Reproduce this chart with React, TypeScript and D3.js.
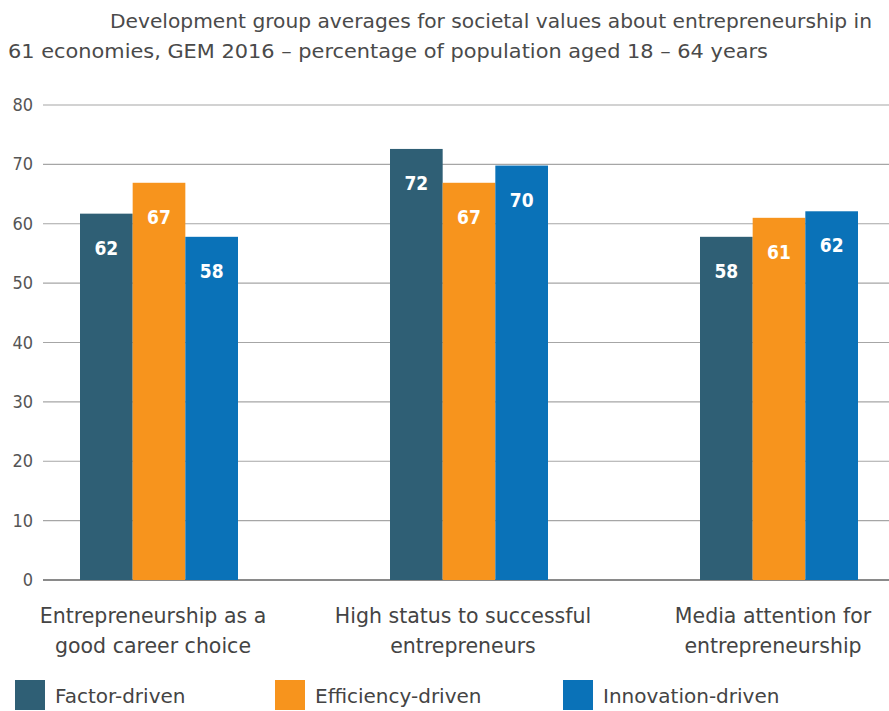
import * as d3 from "d3";
import React from "react";

const title1 = "Development group averages for societal values about entrepreneurship in";
const title2 = "61 economies, GEM 2016 – percentage of population aged 18 – 64 years";

const categories = [
  ["Entrepreneurship as a", "good career choice"],
  ["High status to successful", "entrepreneurs"],
  ["Media attention for", "entrepreneurship"],
];
const series = ["Factor-driven", "Efficiency-driven", "Innovation-driven"];
const colors = ["#2f5f75", "#f7941d", "#0a72b8"];

// value per category, per series
const factorValues = [61.7, 72.6, 57.8];
const efficiencyValues = [66.9, 66.9, 61.0];
const innovationValues = [57.8, 69.8, 62.1];
const factorLabels = ["62", "72", "58"];
const efficiencyLabels = ["67", "67", "61"];
const innovationLabels = ["58", "70", "62"];
const yTicks = [0, 10, 20, 30, 40, 50, 60, 70, 80];

const values = [factorValues, efficiencyValues, innovationValues];
const labels = [factorLabels, efficiencyLabels, innovationLabels];

const wide = "'DejaVu Sans', sans-serif";
const narrow = "'DejaVu Sans Condensed', 'DejaVu Sans', sans-serif";

export default function App() {
  const width = 889;
  const height = 711;
  const y = d3.scaleLinear().domain([0, 80]).range([580, 105]);
  const x0 = d3.scalePoint().domain(["0", "1", "2"]).range([159, 779]);
  const x1 = d3.scaleBand().domain(["0", "1", "2"]).range([-79, 79]);

  return (
    <svg
      width={width}
      height={height}
      style={{ position: "absolute", left: 0, top: 0, fontFamily: wide }}
    >
      <text x={110} y={28} fontSize={19} fill="#4a4a4a" textLength={762} lengthAdjust="spacingAndGlyphs">
        {title1}
      </text>
      <text x={8} y={58} fontSize={19} fill="#4a4a4a" textLength={760} lengthAdjust="spacingAndGlyphs">
        {title2}
      </text>

      {yTicks.map((t) => (
        <g key={t}>
          <line
            x1={43}
            x2={889}
            y1={y(t)}
            y2={y(t)}
            stroke={t === 0 ? "#8a8a8a" : "#a6a6a6"}
            strokeWidth={t === 0 ? 2 : 1.2}
          />
          <text x={33} y={y(t) + 6} textAnchor="end" fontSize={18} fontFamily={narrow} fill="#555">
            {t}
          </text>
        </g>
      ))}

      {categories.map((c, ci) => (
        <g key={ci} transform={`translate(${x0(String(ci))},0)`}>
          {series.map((s, si) => {
            const v = values[si][ci];
            const bx = x1(String(si))!;
            return (
              <g key={s}>
                <rect
                  x={bx}
                  y={y(v)}
                  width={x1.bandwidth()}
                  height={y(0) - y(v)}
                  fill={colors[si]}
                />
                <text
                  x={bx + x1.bandwidth() / 2}
                  y={y(v) + 41}
                  textAnchor="middle"
                  fontSize={19}
                  fontFamily={narrow}
                  fontWeight="bold"
                  fill="#fff"
                >
                  {labels[si][ci]}
                </text>
              </g>
            );
          })}
          {c.map((line, li) => (
            <text
              key={li}
              x={-6}
              y={623 + li * 30}
              textAnchor="middle"
              fontSize={20.5}
              fill="#444"
            >
              {line}
            </text>
          ))}
        </g>
      ))}

      {series.map((s, si) => {
        const lx = [15, 275, 563][si];
        return (
          <g key={s}>
            <rect x={lx} y={680} width={30} height={30} fill={colors[si]} />
            <text x={lx + 40} y={703} fontSize={20} fill="#444">{s}</text>
          </g>
        );
      })}
    </svg>
  );
}
